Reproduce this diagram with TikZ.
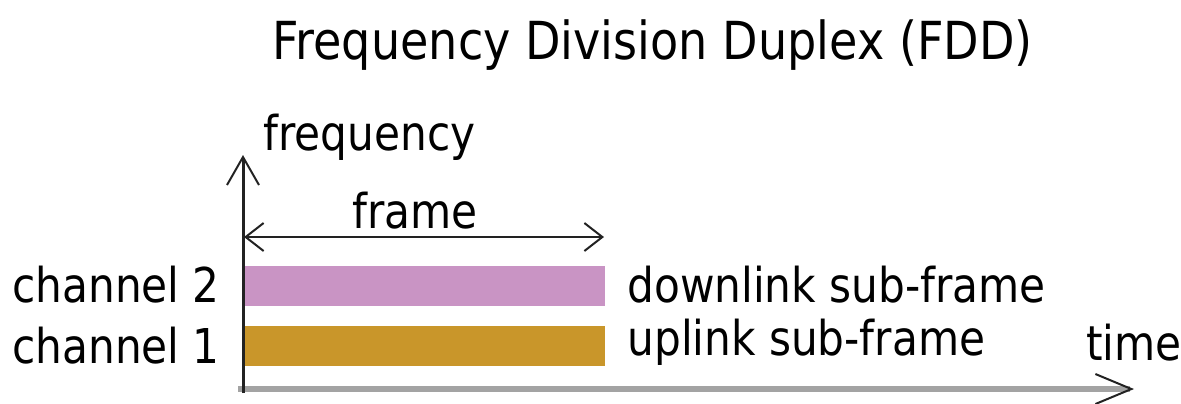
\documentclass[tikz,border=0pt]{standalone}
\usepackage{fontspec}
\setmainfont[FakeStretch=0.88]{DejaVu Sans}
\usetikzlibrary{arrows.meta}
\definecolor{dlpink}{RGB}{201,148,196}
\definecolor{ulgold}{RGB}{201,150,42}
\definecolor{axisgray}{RGB}{163,163,163}
\definecolor{linec}{RGB}{34,34,34}
\tikzset{
  lbl/.style={anchor=base west,inner sep=0pt,font=\fontsize{24pt}{28pt}\selectfont},
  ttl/.style={anchor=base west,inner sep=0pt,font=\fontsize{26.2pt}{30pt}\selectfont},
  bar/.style={draw=none,inner sep=0pt,minimum width=180pt,minimum height=20pt,anchor=north west},
}
\begin{document}
\begin{tikzpicture}[x=0.5pt,y=-0.5pt]
\useasboundingbox (0,0) rectangle (1181,403);
\node[ttl] (title) at (272,59) {Frequency Division Duplex (FDD)};
\node[lbl] (freq) at (263,150) {frequency};
\node[lbl] (frame) at (352,228) {frame};
\node[lbl] (ch2) at (12,302) {channel 2};
\node[lbl] (ch1) at (12,363) {channel 1};
\node[lbl] (dl) at (627,302) {downlink sub-frame};
\node[lbl] (ul) at (627,355) {uplink sub-frame};
\node[lbl] (time) at (1086,360) {time};
\node[bar,fill=dlpink] (dlbar) at (245,266) {};
\node[bar,fill=ulgold] (ulbar) at (245,326) {};
\coordinate (origin) at (243,393);
\coordinate (ftop) at (243,155);
\coordinate (tleft) at (238,389);
\coordinate (tright) at (1134,389);
\coordinate (fl) at (244,237);
\coordinate (fr) at (604,237);
\draw[axisgray,line width=3pt,-{Straight Barb[length=18pt,width=15pt,line width=1pt,color=linec]}] (tleft) -- (tright);
\draw[linec,line width=1.5pt,-{Straight Barb[length=14pt,width=16pt,line width=1pt]}] (origin) -- (ftop);
\draw[linec,line width=1pt,{Straight Barb[length=9pt,width=14pt,line width=1pt]}-{Straight Barb[length=9pt,width=14pt,line width=1pt]}] (fl) -- (fr);
\end{tikzpicture}
\end{document}
